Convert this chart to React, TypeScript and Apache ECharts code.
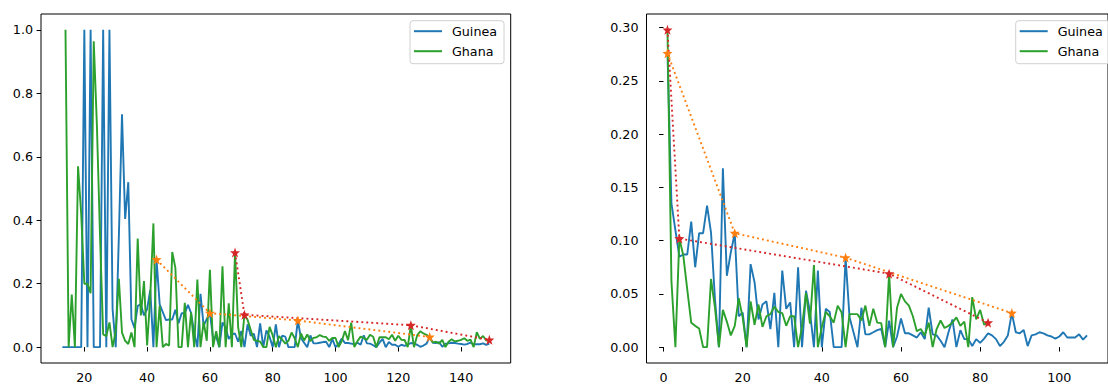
import React, { useEffect, useRef } from "react";
import * as echarts from "echarts";

// Guinea series, first value at x = 13
const GUINEA_START = 13;
const guinea = [
  0, 0, 0, 0, 0, 0, 0, 1.0, 0, 1.0, 0, 0, 0, 1.0, 0, 1.0, 0.12, 0, 0.35, 0.734,
  0.404, 0.52, 0.088, 0.06, 0.13, 0.135, 0.1, 0.12, 0.18, 0,
  // x = 43 ..
  0.276, 0.135, 0.11, 0.085, 0.087, 0.087, 0.118, 0.075, 0.107, 0.107,
  0.133, 0.1075, 0.045, 0, 0.168, 0.067, 0.089, 0.107, 0.029, 0.0325,
  0, 0.078, 0.061, 0.026, 0.04, 0.043, 0.017, 0.051, 0, 0.072,
  0.036, 0.042, 0, 0.075, 0, 0.053, 0.033, 0, 0.072, 0,
  0.036, 0.033, 0, 0, 0, 0.084, 0.028, 0.014, 0, 0.037,
  0.012, 0.012, 0.014, 0.016, 0.017, 0, 0.025, 0, 0.01, 0.027,
  0.013, 0.013, 0.011, 0.009, 0.014, 0.0075, 0.037, 0.012, 0.011, 0.006,
  0, 0.014, 0.026, 0, 0.016, 0.0075, 0.0075, 0.001, 0.0075, 0.004,
  0.008, 0.013, 0.011, 0.0075, 0.001, 0.005, 0.011, 0.032, 0.014, 0.013,
  0.016, 0.001, 0.011, 0.012, 0.014, 0.013, 0.011, 0.01, 0.008, 0.01,
  0.014, 0.009, 0.009, 0.009, 0.012, 0.007, 0.011,
];

// Ghana series, first value at x = 14
const GHANA_START = 14;
const ghana = [
  1.0, 0, 0.166, 0, 0.57, 0.42, 0.2, 0.2, 0.17, 0.964,
  0.7, 0.35, 0.04, 0.035, 0.078, 0, 0.05, 0.215, 0.046, 0.02,
  0.01, 0.046, 0, 0.342, 0.1, 0.208, 0.005, 0.16, 0.39, 0,
  0.13, 0, 0.01, 0.005, 0.3, 0.25, 0, 0, 0.14, 0,
  0.11, 0, 0.213, 0, 0.08, 0.02, 0.244, 0, 0.05, 0,
  0.255, 0, 0.138, 0,
  // x = 68 ..
  0.298, 0.062, 0, 0.102, 0.086, 0.054, 0.023, 0.02, 0.0175, 0,
  0, 0.064, 0.037, 0, 0.035, 0.024, 0.011, 0.02, 0.046, 0.028,
  0, 0.043, 0.021, 0.04, 0.019, 0.029, 0.031, 0.038, 0.033, 0.032,
  0.02, 0.029, 0.029, 0, 0.019, 0.051, 0.022, 0.077, 0, 0.019,
  0.033, 0.029, 0.023, 0.039, 0.0325, 0, 0.031, 0.031, 0.031, 0.025,
  0.039, 0.02, 0.036, 0.023, 0.0225, 0, 0.069, 0, 0.037, 0.05,
  0.043, 0.039, 0.029, 0.015, 0.017, 0.011, 0.023, 0, 0.017, 0.025,
  0.018, 0.02, 0.023, 0.028, 0.02, 0.024, 0, 0.047, 0.026, 0.035,
  0.021, 0.023,
];

// selected peaks (x positions in the full series)
const guineaPeaks = [43, 60, 88, 130];
const ghanaPeaks = [68, 71, 124, 149];

// right panel: series re-indexed from their first peak
const guineaShift = 42;
const ghanaShift = 67;

const leftXTicks = [20, 40, 60, 80, 100, 120, 140];
const rightXTicks = [0, 20, 40, 60, 80, 100];
const leftYTicks = [0, 0.2, 0.4, 0.6, 0.8, 1.0];
const rightYTicks = [0, 0.05, 0.1, 0.15, 0.2, 0.25, 0.3];

const BLUE = "#1f77b4";
const GREEN = "#2ca02c";
const ORANGE = "#ff7f0e";
const RED = "#d62728";
const FONT = "DejaVu Sans";
const FS = 12.7;
const LW = 1.9;
const STAR =
  "path://M0,-10L2.35,-3.24L9.51,-3.09L3.8,2.24L5.88,9.09L0,5L-5.88,9.09L-3.8,2.24L-9.51,-3.09L-2.35,-3.24Z";

function toPairs(values: number[], start: number, from: number, shift: number) {
  const out: number[][] = [];
  values.forEach((v, i) => {
    const x = start + i;
    if (x >= from) out.push([x - shift, v]);
  });
  return out;
}

function peakPairs(values: number[], start: number, peaks: number[], shift: number) {
  return peaks.map((x) => [x - shift, values[x - start]]);
}

const pad = (r: { min: number; max: number }) => 0.05 * (r.max - r.min);

function xAxis(gridIndex: number, ticks: number[]) {
  return {
    type: "value",
    gridIndex,
    min: (r: any) => r.min - pad(r),
    max: (r: any) => r.max + pad(r),
    axisLine: { show: false },
    splitLine: { show: false },
    axisTick: { show: true, length: 4.4, lineStyle: { color: "#000", width: 1 }, customValues: ticks },
    axisLabel: {
      customValues: ticks,
      margin: 8,
      color: "#000",
      fontSize: FS,
      fontFamily: FONT,
      formatter: (v: number) => String(Math.round(v)),
    },
  };
}

function yAxis(gridIndex: number, ticks: number[], dec: number) {
  return {
    type: "value",
    gridIndex,
    min: (r: any) => r.min - pad(r),
    max: (r: any) => r.max + pad(r),
    axisLine: { show: false },
    splitLine: { show: false },
    axisTick: { show: true, length: 4.4, lineStyle: { color: "#000", width: 1 }, customValues: ticks },
    axisLabel: {
      customValues: ticks,
      margin: 8,
      color: "#000",
      fontSize: FS,
      fontFamily: FONT,
      formatter: (v: number) => v.toFixed(dec),
    },
  };
}

function lineSeries(name: string, data: number[][], color: string, idx: number) {
  return {
    name,
    type: "line",
    xAxisIndex: idx,
    yAxisIndex: idx,
    data,
    symbol: "none",
    color,
    lineStyle: { color, width: LW },
    z: 2,
  };
}

function peakSeries(data: number[][], color: string, idx: number) {
  return {
    type: "line",
    xAxisIndex: idx,
    yAxisIndex: idx,
    data,
    symbol: STAR,
    symbolSize: 10,
    symbolKeepAspect: true,
    itemStyle: { color },
    lineStyle: { color, width: LW, type: [1.9, 3.1] },
    z: 3,
  };
}

function legend(left: number) {
  return {
    orient: "vertical",
    left,
    top: 20.7,
    data: ["Guinea", "Ghana"],
    icon: "rect",
    itemWidth: 28,
    itemHeight: 2,
    itemGap: 6,
    padding: [3.5, 7, 5.5, 4],
    borderColor: "#d0d0d0",
    borderWidth: 1,
    borderRadius: 3,
    backgroundColor: "rgba(255,255,255,0.8)",
    selectedMode: false,
    textStyle: { fontSize: FS, fontFamily: FONT, color: "#000", lineHeight: 14, padding: [0, 0, 0, 5] },
  };
}

export default function App() {
  const ref = useRef<HTMLDivElement>(null);
  useEffect(() => {
    if (!ref.current) return;
    const chart = echarts.init(ref.current, undefined, { renderer: "svg" });
    const grid = { show: true, borderColor: "#000", borderWidth: 1, backgroundColor: "#fff" };
    chart.setOption({
      animation: false,
      backgroundColor: "#fff",
      textStyle: { fontFamily: FONT },
      grid: [
        { ...grid, left: 41, top: 14, width: 469.7, height: 349 },
        { ...grid, left: 646.5, top: 14, width: 469, height: 349 },
      ],
      xAxis: [xAxis(0, leftXTicks), xAxis(1, rightXTicks)],
      yAxis: [yAxis(0, leftYTicks, 1), yAxis(1, rightYTicks, 2)],
      legend: [legend(410), legend(1015.7)],
      series: [
        lineSeries("Guinea", toPairs(guinea, GUINEA_START, GUINEA_START, 0), BLUE, 0),
        lineSeries("Ghana", toPairs(ghana, GHANA_START, GHANA_START, 0), GREEN, 0),
        peakSeries(peakPairs(guinea, GUINEA_START, guineaPeaks, 0), ORANGE, 0),
        peakSeries(peakPairs(ghana, GHANA_START, ghanaPeaks, 0), RED, 0),
        lineSeries("Guinea", toPairs(guinea, GUINEA_START, guineaPeaks[0], guineaShift), BLUE, 1),
        lineSeries("Ghana", toPairs(ghana, GHANA_START, ghanaPeaks[0], ghanaShift), GREEN, 1),
        peakSeries(peakPairs(guinea, GUINEA_START, guineaPeaks, guineaShift), ORANGE, 1),
        peakSeries(peakPairs(ghana, GHANA_START, ghanaPeaks, ghanaShift), RED, 1),
      ],
    });
    return () => chart.dispose();
  }, []);
  return (
    <div
      ref={ref}
      style={{ position: "absolute", left: 0, top: 0, width: 1108, height: 385, overflow: "hidden" }}
    />
  );
}
